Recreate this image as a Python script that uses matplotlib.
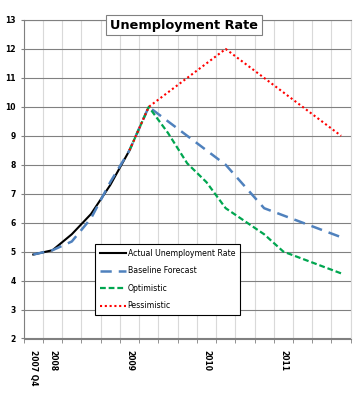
import numpy as np
import matplotlib
matplotlib.use("Agg")
import matplotlib.pyplot as plt
from matplotlib.ticker import FixedLocator

nan = np.nan
tick_labels = ["2007 Q4", "2008", "", "", "", "2009", "", "", "", "2010",
               "", "", "", "2011", "", "", ""]
actual = [4.9, 5.05, 5.6, 6.3, 7.3, 8.5]
baseline = [4.9, 5.05, 5.35, 6.15, 7.4, 8.5, 10.0, 9.5, 9.0, 8.5, 8.0,
            7.25, 6.5, 6.25, 6.0, 5.75, 5.5]
optimistic = [nan, nan, nan, nan, nan, 8.5, 10.0, 9.1, 8.05, 7.4, 6.5,
              6.05, 5.6, 5.0, 4.75, 4.5, 4.25]
pessimistic = [nan, nan, nan, nan, nan, 8.5, 10.0, 10.5, 11.0, 11.5, 12.0,
               11.5, 11.0, 10.5, 10.0, 9.5, 9.0]

fig = plt.figure(figsize=(3.57, 4.0), dpi=100)
ax = fig.add_axes([23.7 / 357, 1 - 338.5 / 400, 327 / 357, 318.5 / 400])

x = np.arange(len(tick_labels))
ax.plot(x[:len(actual)], actual, color="black", lw=1.5, label="Actual Unemployment Rate", zorder=3)
ax.plot(x, baseline, color="#4F81BD", lw=1.8, dashes=(4.5, 2.8), label="Baseline Forecast", zorder=4)
ax.plot(x, optimistic, color="#00A650", lw=1.6, dashes=(2.6, 1.3), label="Optimistic", zorder=5)
ax.plot(x, pessimistic, color="#FF0000", lw=1.5, dashes=(1.0, 1.3), label="Pessimistic", zorder=6)

ax.set_xlim(-0.5, len(tick_labels) - 0.5)
ax.set_ylim(2, 13)
ax.set_yticks(np.arange(2, 14))
ax.set_yticklabels([str(v) for v in range(2, 14)], fontsize=5.5, fontweight="bold")
ax.tick_params(axis="y", length=2.5, color="#808080", pad=3)

ax.set_xticks(x)
ax.set_xticklabels(tick_labels, rotation=-90, fontsize=5.5, fontweight="bold", va="top", ha="center")
ax.tick_params(axis="x", which="major", length=0, pad=8)
ax.xaxis.set_minor_locator(FixedLocator(np.arange(-0.5, len(tick_labels), 1.0)))
ax.tick_params(axis="x", which="minor", length=3, color="#808080")

ax.grid(axis="y", which="major", color="#808080", lw=0.8, zorder=1)
ax.grid(axis="x", which="minor", color="#d9d9d9", lw=0.8, zorder=0)
ax.set_axisbelow(True)
for s in ["left", "bottom", "top"]:
    ax.spines[s].set_color("#808080")
    ax.spines[s].set_linewidth(0.8)
ax.spines["right"].set_color("#d9d9d9")
ax.spines["right"].set_linewidth(0.8)

leg = ax.legend(loc="upper left", bbox_to_anchor=(0.218, 0.296), fontsize=5.55,
                frameon=True, fancybox=False, edgecolor="black", framealpha=1,
                handlelength=3.4, handletextpad=0.25, labelspacing=1.1,
                borderpad=0.6, borderaxespad=0)
leg.get_frame().set_linewidth(0.8)

fig.text(184.2 / 357, 1 - 25 / 400, "Unemployment Rate", ha="center", va="center",
         fontsize=9.3, fontweight="bold",
         bbox=dict(boxstyle="square,pad=0.3", facecolor="white", edgecolor="#808080", lw=0.8))

fig.savefig("out.png", dpi=100)
